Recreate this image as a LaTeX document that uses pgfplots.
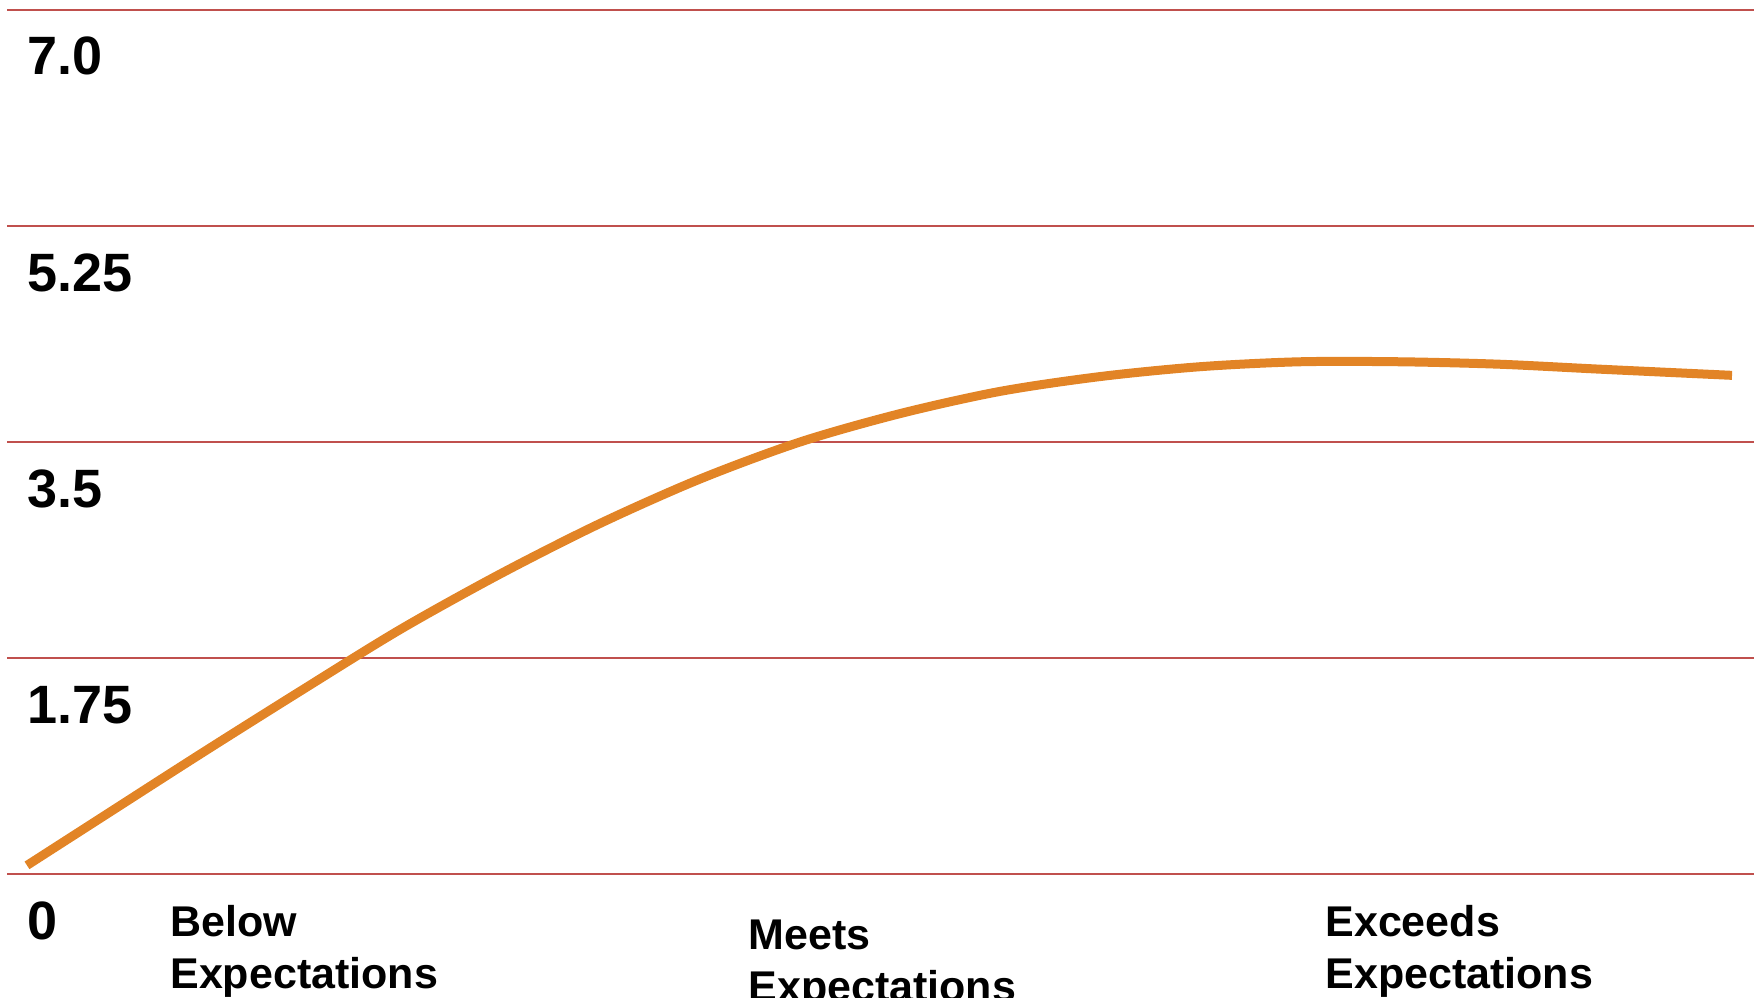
\documentclass[border=0pt]{standalone}
\usepackage{pgfplots}
\pgfplotsset{compat=1.18}
\usepackage{fontspec}
\setmainfont{Liberation Sans}
\definecolor{gridred}{HTML}{C0504D}
\definecolor{curveorange}{HTML}{E28426}
\begin{document}
\begin{tikzpicture}
\begin{axis}[
  scale only axis,
  width=873.5pt, height=432pt,
  xmin=7, xmax=1754,
  ymin=0, ymax=7,
  axis line style={draw=none},
  major tick length=0pt,
  ymajorgrids,
  grid style={color=gridred, line width=1pt},
  ytick={0,1.75,3.5,5.25,7},
  yticklabels={0,1.75,3.5,5.25,7.0},
  /pgf/number format/assume math mode=true,
  yticklabel style={anchor=base west, inner sep=0pt, xshift=10pt, yshift=-32.5pt,
    font=\fontsize{27}{32}\selectfont\bfseries},
  xtick={170,1325},
  xticklabels={{Below\\Expectations},{Exceeds\\Expectations}},
  extra x ticks={748},
  extra x tick labels={{Meets\\Expectations}},
  extra x tick style={xticklabel style={yshift=-6.5pt}, grid=none},
  xticklabel style={anchor=base west, inner sep=0pt, align=left, yshift=-57pt,
    font=\fontsize{21.5}{26}\selectfont\bfseries},
  clip=false,
]
\addplot[color=curveorange, line width=4.5pt, smooth, line cap=butt] coordinates {
(27,0.07) (100,0.45) (200,0.97) (300,1.48) (400,1.98)
(500,2.43) (600,2.84) (700,3.20) (800,3.50) (900,3.73) (1000,3.91)
(1100,4.03) (1200,4.11) (1300,4.15) (1400,4.15) (1500,4.13)
(1600,4.09) (1732,4.04)
};
\end{axis}
\pgfresetboundingbox
\path[use as bounding box] (current axis.south west) ++(-3.5pt,-61.5pt) rectangle ([yshift=5pt]current axis.north east);
\end{tikzpicture}
\end{document}
